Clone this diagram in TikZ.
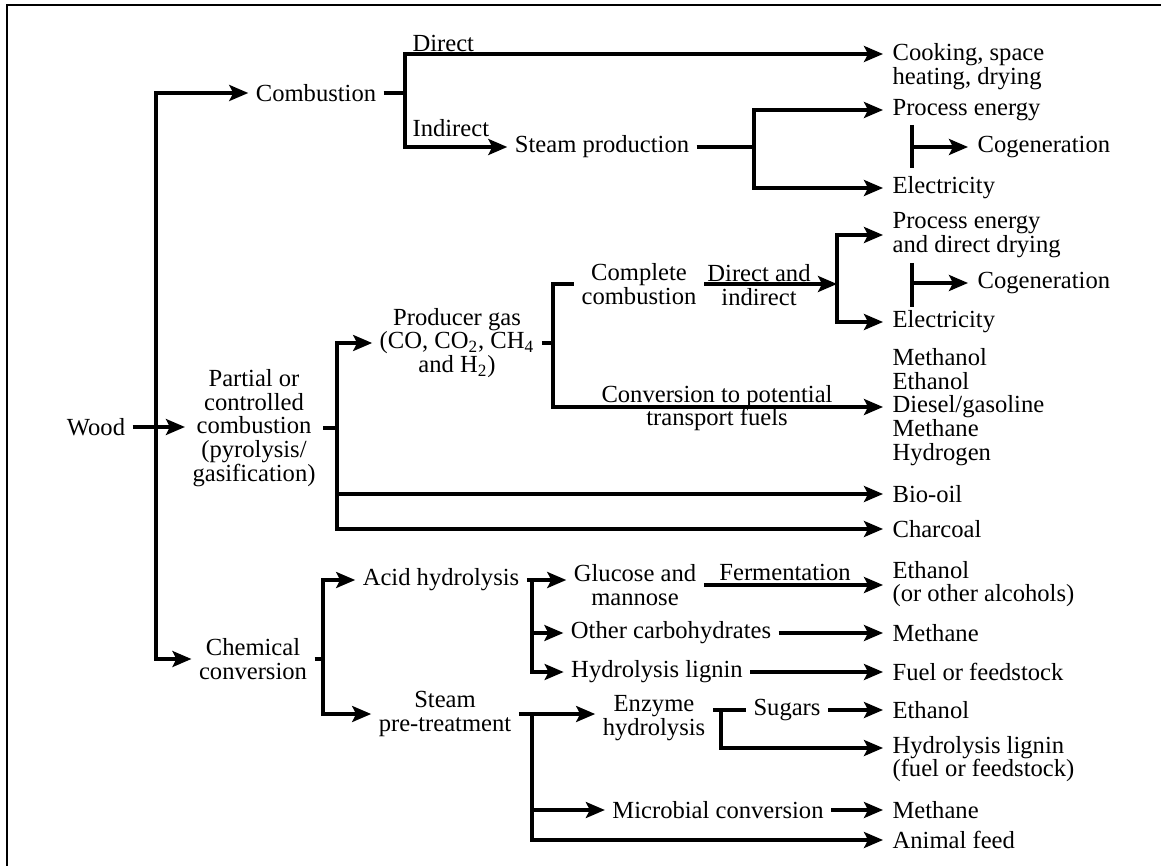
\documentclass[tikz,border=0pt]{standalone}
\usepackage{fontspec}
\setmainfont{Liberation Serif}
\usetikzlibrary{arrows.meta}
\begin{document}
\begin{tikzpicture}[x=0.5pt,y=-0.5pt,line width=1.6pt,>={Stealth[length=9.5pt,width=8pt,inset=2pt]}]
\tikzstyle{every node}=[font=\fontsize{12.3}{11.9}\selectfont,inner xsep=3pt,inner ysep=1pt,align=center]
\tikzstyle{res}=[anchor=west,align=left,inner xsep=4pt]
\tikzstyle{lbl}=[anchor=west]
\useasboundingbox (0,0) rectangle (1161,866);
\draw[line width=1.2pt] (7,866) -- (7,5) -- (1161,5);

% first level
\node (wood) at (96,427) {Wood};
\node (comb) at (316,93) {Combustion};
\node (partial) at (254,428) {Partial or\\controlled\\combustion\\(pyrolysis/\\gasification)};
\node (chem) at (253,659) {Chemical\\conversion};

% combustion
\node (steamprod) at (602,147) {Steam production};
\node[res] (cook) at (883,67) {Cooking, space\\heating, drying};
\node[res] (proc1) at (883,110) {Process energy};
\node[res] (elec1) at (883,188) {Electricity};
\node[res] (cog1) at (968,147) {Cogeneration};
\node[lbl] (ldirect) at (405,43) {Direct};
\node[lbl] (lindirect) at (405,128) {Indirect};

% partial combustion
\node (producer) at (457,343) {Producer gas\\(CO, CO\textsubscript{2}, CH\textsubscript{4}\\and H\textsubscript{2})};
\node (complete) at (639,284) {Complete\\combustion};
\node (ldi) at (759,285) {Direct and\\indirect};
\node[res] (proc2) at (883,235) {Process energy\\and direct drying};
\node[res] (cog2) at (968,283) {Cogeneration};
\node[res] (elec2) at (883,322) {Electricity};
\node (lconv) at (717,408) {Conversion to potential\\transport fuels};
\node[res] (fuels) at (883,407) {Methanol\\Ethanol\\Diesel/gasoline\\Methane\\Hydrogen};
\node[res] (biooil) at (883,494) {Bio-oil};
\node[res] (charcoal) at (883,529) {Charcoal};

% chemical conversion
\node (acid) at (441,580) {Acid hydrolysis};
\node (steam) at (445,714) {Steam\\pre-treatment};
\node (glucose) at (635,585) {Glucose and\\mannose};
\node (lferm) at (785,572) {Fermentation};
\node (other) at (671,633) {Other carbohydrates};
\node (hlignin) at (657,672) {Hydrolysis lignin};
\node (enzyme) at (654,718) {Enzyme\\hydrolysis};
\node (sugars) at (787,710) {Sugars};
\node (microbial) at (718,810) {Microbial conversion};
\node[res] (ethanol1) at (883,584) {Ethanol\\(or other alcohols)};
\node[res] (methane1) at (883,633) {Methane};
\node[res] (fuelfeed) at (883,672) {Fuel or feedstock};
\node[res] (ethanol2) at (883,710) {Ethanol};
\node[res] (lignin2) at (883,759) {Hydrolysis lignin\\(fuel or feedstock)};
\node[res] (methane2) at (883,810) {Methane};
\node[res] (feed) at (883,840) {Animal feed};

% junctions
\coordinate (sp) at (156,427);
\coordinate (b1) at (405,93);
\coordinate (b1t) at (405,54);
\coordinate (b2) at (754,147);
\coordinate (g1t) at (912,125);
\coordinate (g1b) at (912,168);
\coordinate (b3) at (337,428);
\coordinate (b4) at (553,343);
\coordinate (b5) at (837,284);
\coordinate (g2t) at (912,263);
\coordinate (g2b) at (912,307);
\coordinate (b6) at (323,659);
\coordinate (b7) at (532,580);
\coordinate (b8) at (532,714);
\coordinate (b9) at (721,710);
\coordinate (b9b) at (721,748);

\draw[->] (wood.east) -- (wood.east -| partial.west);
\draw[->] (sp) |- (comb.west);
\draw[->] (sp) |- (chem.west);

\draw (comb.east) -- (b1);
\draw[->] (b1) |- (b1t -| cook.west);
\draw[->] (b1) |- (steamprod.west);
\draw (steamprod.east) -- (b2);
\draw[->] (b2) |- (proc1.west);
\draw[->] (b2) |- (elec1.west);
\draw (g1t) -- (g1b);
\draw[->] (g1t |- cog1.west) -- (cog1.west);

\draw (partial.east) -- (b3);
\draw[->] (b3) |- (producer.west);
\draw[->] (b3) |- (biooil.west);
\draw[->] (b3) |- (charcoal.west);
\draw (producer.east) -- (b4);
\draw (b4) |- (complete.west);
\draw[->] (b4) |- (fuels.west);
\draw[->] (complete.east) -- (b5);
\draw[->] (b5) |- (proc2.west);
\draw[->] (b5) |- (elec2.west);
\draw (g2t) -- (g2b);
\draw[->] (g2t |- cog2.west) -- (cog2.west);

\draw (chem.east) -- (b6);
\draw[->] (b6) |- (acid.west);
\draw[->] (b6) |- (steam.west);
\draw (acid.east) -- (b7);
\draw[->] (b7) -- (b7 -| glucose.west);
\draw[->] (b7) |- (other.west);
\draw[->] (b7) |- (hlignin.west);
\draw[->] (glucose.east) -- (glucose.east -| ethanol1.west);
\draw[->] (other.east) -- (methane1.west);
\draw[->] (hlignin.east) -- (fuelfeed.west);
\draw[->] (steam.east) -- (steam.east -| enzyme.west);
\draw[->] (b8) |- (microbial.west);
\draw[->] (b8) |- (feed.west);
\draw (enzyme.east |- b9) -- (sugars.west);
\draw[->] (sugars.east) -- (ethanol2.west);
\draw[->] (b9) |- (lignin2.west |- b9b);
\draw[->] (microbial.east) -- (methane2.west);
\end{tikzpicture}
\end{document}
